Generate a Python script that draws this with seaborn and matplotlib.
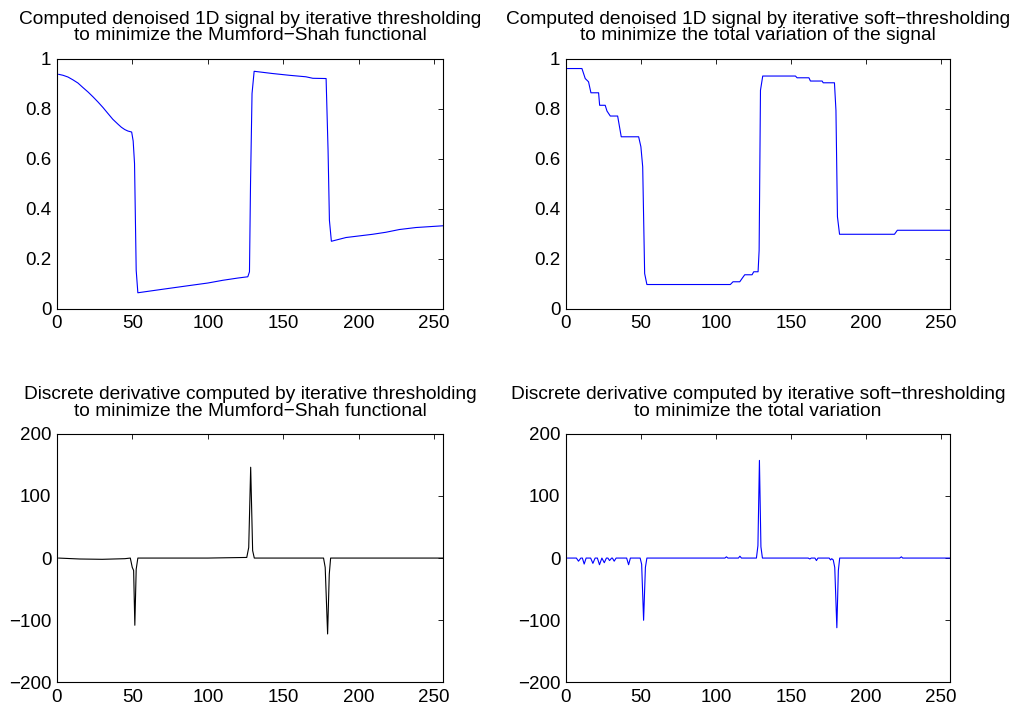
import matplotlib
matplotlib.use("Agg")
import matplotlib.pyplot as plt
import seaborn as sns

# ---------------- data ----------------
ms_x = [1, 4, 7.3, 10.5, 13.9, 17, 20.6, 24, 27.2, 30.5, 33.8, 37, 40.5, 42.7, 44.9, 47, 49.5,
        50.5, 51.4, 52.5, 53.6,
        70, 87.9, 100, 110, 120, 126.5, 127.6, 128.3, 129.3, 130.7,
        143, 154, 165, 169.6, 178.4, 179.7, 180.6, 181.9,
        191.6, 209.3, 218, 227, 238, 256]
ms_y = [0.937, 0.933, 0.926, 0.915, 0.902, 0.885, 0.866, 0.846, 0.826, 0.804, 0.78, 0.757, 0.737, 0.725, 0.716, 0.71, 0.706,
        0.67, 0.58, 0.153, 0.063,
        0.077, 0.092, 0.102, 0.113, 0.122, 0.127, 0.147, 0.5, 0.86, 0.949,
        0.94, 0.933, 0.927, 0.921, 0.92, 0.633, 0.353, 0.269,
        0.284, 0.297, 0.305, 0.316, 0.324, 0.331]

tv_x = [1, 10.7, 12.9, 15.1, 16.7, 21.8, 22.5, 26.2, 27.4, 29.6, 34.5, 36.9, 48.5, 50, 51.2, 52.5, 54,
        109.6, 111.4, 115.9, 117.4, 119.2, 124.1, 125.2, 128.1, 128.8, 129.7, 131.2,
        153, 154.1, 162, 163, 170.8, 171.5, 179, 180, 181, 182.4, 219, 220.9, 256]
tv_y = [0.96, 0.96, 0.92, 0.907, 0.863, 0.863, 0.813, 0.813, 0.79, 0.77, 0.77, 0.687, 0.687, 0.647, 0.567, 0.14, 0.096,
        0.096, 0.107, 0.107, 0.12, 0.135, 0.135, 0.147, 0.147, 0.233, 0.873, 0.93,
        0.93, 0.923, 0.923, 0.91, 0.91, 0.903, 0.903, 0.793, 0.367, 0.297, 0.297, 0.313, 0.313]

msd_x = [1, 15, 30, 45, 48.6, 49.9, 50.8, 51.6, 52.5, 53.6, 100, 125.8, 127.1, 128.4, 129.7, 130.8,
         176.7, 177.8, 179.4, 180.5, 181.4, 220, 256]
msd_y = [0, -1.5, -2, -1, 0, -15, -20, -108, -18, 0, 0, 1, 17, 146, 12, 0,
         0, -15, -122, -26, 0, 0, 0]

tvd_x = [1, 7, 8.4, 10, 11, 12.2, 13.5, 16.5, 18, 19.5, 21, 22.4, 24, 25.6, 27, 28, 29.1, 30.5, 31, 32.2,
         33.5, 40.5, 41.8, 43, 49.5, 50.5, 51.8, 53, 54, 106, 107, 108, 115, 116, 117, 127, 128, 129, 130, 131,
         161.5, 162.6, 163.5, 166, 167, 168, 175.5, 176.4, 177.2, 178.2, 179.2, 180.6, 181.6, 182.5,
         222.5, 223.6, 224.5, 256]
tvd_y = [0, 0, -5, 0, 0, -9.6, 0, 0, -8.5, 0, 0, -10.7, 0, -7.5, 0, 0, -4, 0, 0, -5,
         0, 0, -10.7, 0, 0, -10, -100, -15, 0, 0, 2, 0, 0, 3, 0, 0, 20, 157, 18, 0,
         0, -1.5, 0, 0, -4, 0, 0, -3, -1, -3, -15, -112, -20, 0,
         0, 2, 0, 0]

titles = [
    "Computed denoised 1D signal by iterative thresholding\nto minimize the Mumford\u2212Shah functional",
    "Computed denoised 1D signal by iterative soft\u2212thresholding\nto minimize the total variation of the signal",
    "Discrete derivative computed by iterative thresholding\nto minimize the Mumford\u2212Shah functional",
    "Discrete derivative computed by iterative soft\u2212thresholding\nto minimize the total variation",
]
x_ticks = [0, 50, 100, 150, 200, 250]
sig_ticks = [0, 0.2, 0.4, 0.6, 0.8, 1]
sig_labels = ["0", "0.2", "0.4", "0.6", "0.8", "1"]
der_ticks = [-200, -100, 0, 100, 200]
der_labels = ["\u2212200", "\u2212100", "0", "100", "200"]

# ---------------- style ----------------
sns.set_theme(style="white")
plt.rcParams['font.family'] = ['Liberation Sans', 'DejaVu Sans']
plt.rcParams['axes.edgecolor'] = 'black'
plt.rcParams['axes.linewidth'] = 0.8
plt.rcParams['text.color'] = 'black'
plt.rcParams['xtick.color'] = 'black'
plt.rcParams['ytick.color'] = 'black'

fig = plt.figure(figsize=(10.27, 7.13), dpi=100)
fig.patch.set_facecolor('white')

positions = [
    [0.0555, 0.5673, 0.3760, 0.3506],
    [0.5510, 0.5673, 0.3740, 0.3506],
    [0.0555, 0.0428, 0.3760, 0.3490],
    [0.5510, 0.0428, 0.3740, 0.3490],
]
series = [(ms_x, ms_y, 'blue'), (tv_x, tv_y, 'blue'), (msd_x, msd_y, 'black'), (tvd_x, tvd_y, 'blue')]

for i, (pos, (xs, ys, col)) in enumerate(zip(positions, series)):
    ax = fig.add_axes(pos)
    sns.lineplot(x=xs, y=ys, ax=ax, color=col, linewidth=0.8, estimator=None)
    ax.set_xlim(0, 256)
    ax.set_xticks(x_ticks)
    ax.set_xticklabels([str(t) for t in x_ticks])
    if i < 2:
        ax.set_ylim(0, 1)
        ax.set_yticks(sig_ticks)
        ax.set_yticklabels(sig_labels)
    else:
        ax.set_ylim(-200, 200)
        ax.set_yticks(der_ticks)
        ax.set_yticklabels(der_labels)
    ax.tick_params(axis='both', direction='in', length=3.5, width=0.6,
                   top=True, right=True, labelsize=13.5)
    ax.tick_params(axis='x', pad=5)
    ax.tick_params(axis='y', pad=4)
    for s in ax.spines.values():
        s.set_visible(True)
        s.set_color('black')
        s.set_linewidth(0.8)
    ax.set_title(titles[i], fontsize=13.8, pad=13, linespacing=0.95)
    ax.set_xlabel("")
    ax.set_ylabel("")

fig.savefig("out.png", dpi=100, facecolor='white')
